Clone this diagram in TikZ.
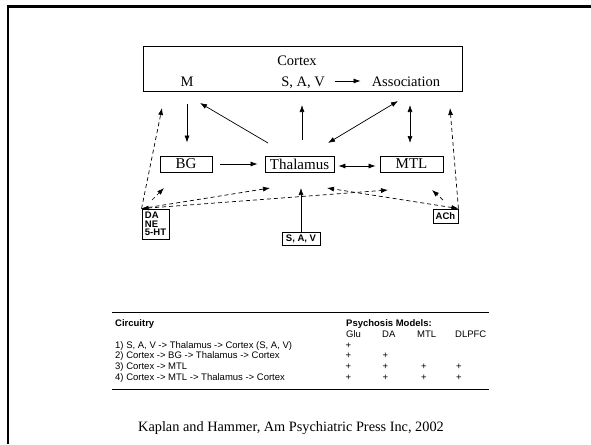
\documentclass[tikz,border=0pt]{standalone}
\usepackage{fontspec}
\setmainfont{Liberation Serif}
\newfontfamily\arialf{Liberation Sans}
\usetikzlibrary{arrows.meta,calc}
\begin{document}
\begin{tikzpicture}[x=1pt,y=-1pt,
  box/.style={draw, line width=0.8pt, inner sep=0pt, font=\fontsize{15}{15}\selectfont},
  smallbox/.style={draw, line width=0.9pt, inner sep=0pt, font=\arialf\bfseries\fontsize{9.5}{8.6}\selectfont, align=left},
  ctext/.style={inner sep=0pt, anchor=base, font=\fontsize{14.5}{15}\selectfont},
  arr/.style={line width=0.7pt, -{Latex[length=7pt,width=5pt]}},
  darr/.style={line width=0.7pt, {Latex[length=7pt,width=5pt]}-{Latex[length=7pt,width=5pt]}},
  dsh/.style={dash pattern=on 4pt off 3pt},
  tab/.style={inner sep=0pt, anchor=base west, font=\arialf\fontsize{9.5}{10}\selectfont},
  tabb/.style={tab, font=\arialf\bfseries\fontsize{9.5}{10}\selectfont},
  pl/.style={inner sep=0pt, anchor=base, font=\arialf\fontsize{9.5}{10}\selectfont},
]
\useasboundingbox (0,0) rectangle (591,444);
% frame
\draw[line width=2.6pt] (8,444) -- (8,6.3) -- (591,6.3);

% cortex
\node[draw, line width=0.8pt, minimum width=319pt, minimum height=45pt, inner sep=0pt] (cortex) at (302.5,68.5) {};
\node[ctext] (ctx) at (297,66) {Cortex};
\node[ctext] (m) at (187,86) {M};
\node[ctext] (sav) at (303,86) {S, A, V};
\node[ctext] (assoc) at (406,86) {Association};
\draw[arr] ($(sav.base east)+(10,-5)$) -- ($(assoc.base west)+(-11,-5)$);

% middle row
\node[box, minimum width=52pt, minimum height=16pt] (bg) at (186,164) {BG};
\node[box, minimum width=69pt, minimum height=16pt] (thal) at (299.5,164) {Thalamus};
\node[box, minimum width=63pt, minimum height=16pt] (mtl) at (411.5,164) {MTL};

% small boxes
\node[smallbox, minimum width=27pt, minimum height=30pt] (da) at (155.5,224) {DA\\NE\\5-HT};
\node[smallbox, minimum width=38pt, minimum height=13pt] (sbox) at (301,238.5) {S, A, V};
\node[smallbox, minimum width=25pt, minimum height=14pt] (ach) at (445.5,216) {ACh};

% coordinates for free ends
\coordinate (ctxA) at (200,103);
\coordinate (thA) at (268,143);
\coordinate (thUpS) at (302,140);
\coordinate (thUpE) at (302,105);
\coordinate (asA) at (398,101);
\coordinate (thB) at (328,143);
\coordinate (vdT) at (410,105);
\coordinate (vdB) at (410,143);
\coordinate (ctxDL) at (162,108);
\coordinate (ctxDR) at (450,108);
\coordinate (bgS) at (152,200);
\coordinate (bgE) at (164,188);
\coordinate (thDL) at (270,188);
\coordinate (mtlDL) at (388,190);
\coordinate (thDR) at (327,188);
\coordinate (mtlS) at (443,200);
\coordinate (mtlE) at (432,190);
\coordinate (thBot) at (301,188);

% solid arrows
\draw[arr, shorten <=13pt, shorten >=13pt] (m |- cortex.south) -- (m |- bg.north);
\draw[arr] (thA) -- (ctxA);
\draw[arr] (thUpS) -- (thUpE);
\draw[darr] (thB) -- (asA);
\draw[darr] (vdT) -- (vdB);
\draw[arr, shorten <=8pt, shorten >=7pt] (bg.east) -- (thal.west);
\draw[darr, shorten <=4pt, shorten >=4pt] ($(thal.east)+(0,2)$) -- ($(mtl.west)+(0,2)$);
\draw[arr] (sbox.north) -- (thBot);

% dashed arrows
\draw[arr, dsh] (da.north west) -- (ctxDL);
\draw[arr, dsh] (ach.north east) -- (ctxDR);
\draw[arr, dsh] (bgS) -- (bgE);
\draw[arr, dsh] (da.north west) -- (thDL);
\draw[darr, dsh] (da.north west) -- (mtlDL);
\draw[darr, dsh] (ach.north east) -- (thDR);
\draw[arr, dsh] (mtlS) -- (mtlE);

% table
\draw[line width=0.8pt] (112,312) coordinate (tl) -- (489,312) coordinate (tr);
\draw[line width=0.8pt] (112,389) coordinate (bl) -- (489,389) coordinate (br);
\node[tabb] (hc) at (115,326.5) {Circuitry};
\node[tabb] (hp) at (346,326.5) {Psychosis Models:};
\node[tab] (hglu) at (346,337) {Glu};
\node[tab] (hda) at (382,337) {DA};
\node[tab] (hmtl) at (417,337) {MTL};
\node[tab] (hdl) at (455,337) {DLPFC};
\node[tab] (r1) at (115,348) {1) S, A, V -> Thalamus -> Cortex (S, A, V)};
\node[tab] (r2) at (115,358.5) {2) Cortex -> BG -> Thalamus -> Cortex};
\node[tab] (r3) at (115,369.5) {3) Cortex -> MTL};
\node[tab] (r4) at (115,380.5) {4) Cortex -> MTL -> Thalamus -> Cortex};
\foreach \y/\cols in {348/{348.5}, 358.5/{348.5,385.5}, 369.5/{348.5,385.5,424,459}, 380.5/{348.5,385.5,424,459}}{
  \foreach \x in \cols { \node[pl] at (\x,\y) {+}; }
}

% caption
\node[inner sep=0pt, font=\fontsize{14.3}{15}\selectfont] (cap) at (291,428) {Kaplan and Hammer, Am Psychiatric Press Inc, 2002};
\end{tikzpicture}
\end{document}
